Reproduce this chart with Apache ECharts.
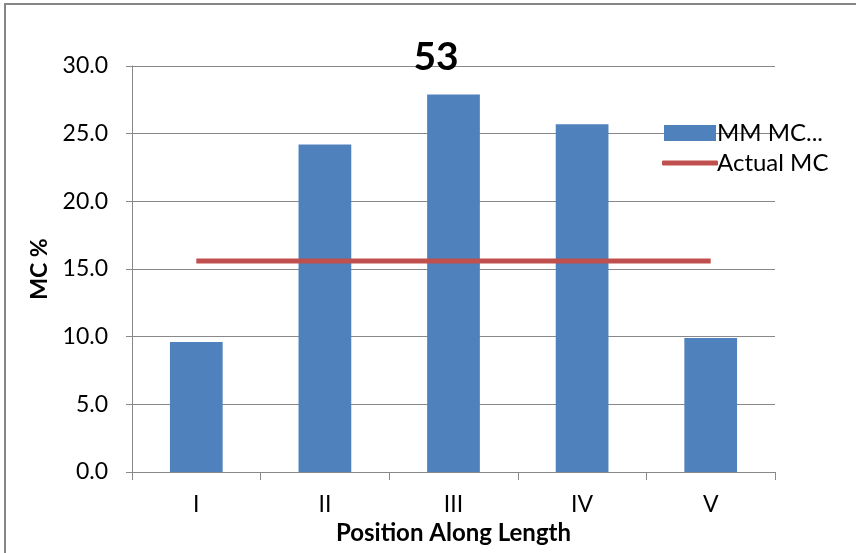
<!DOCTYPE html>
<html>
<head>
<meta charset="utf-8">
<script src="https://cdn.jsdelivr.net/npm/echarts@6/dist/echarts.min.js"></script>
<style>
  html, body { margin: 0; padding: 0; background: #fff; }
  #chart { width: 856px; height: 553px; }
</style>
</head>
<body>
<div id="chart"></div>
<script>
// Moisture content by position along the length
const positions = ['I', 'II', 'III', 'IV', 'V'];
const mmMC = [9.6, 24.2, 27.9, 25.7, 9.9];
const actualMC = [15.6, 15.6, 15.6, 15.6, 15.6];
const yTicks = { min: 0, max: 30, interval: 5 };

const font = 'Lato, "Open Sans", sans-serif';
const chart = echarts.init(document.getElementById('chart'), null, { renderer: 'canvas' });

chart.setOption({
  backgroundColor: '#ffffff',
  animation: false,
  title: {
    text: '53',
    left: 431,
    top: 33,
    textAlign: 'center',
    textStyle: { fontFamily: font, fontSize: 39, fontWeight: 'bold', color: '#000' }
  },
  // chart frame (top and left edges show inside the page)
  graphic: [{
    type: 'rect',
    shape: { x: 5, y: 4, width: 900, height: 600 },
    style: { fill: 'none', stroke: '#868686', lineWidth: 2 },
    silent: true
  }],
  legend: [{
    data: [{ name: 'MM MC...', icon: 'rect' }],
    left: 659, top: 116,
    itemWidth: 52, itemHeight: 16,
    textStyle: { fontFamily: font, fontSize: 24, lineHeight: 24, color: '#000', padding: [0, 0, 0, -4] }
  }, {
    data: [{ name: 'Actual MC', icon: 'roundRect' }],
    left: 657, top: 146,
    itemWidth: 56, itemHeight: 5,
    textStyle: { fontFamily: font, fontSize: 24, lineHeight: 24, color: '#000', padding: [0, 0, 0, -6] }
  }],
  grid: { left: 132, right: 81, top: 66, bottom: 81 },
  xAxis: {
    type: 'category',
    data: positions,
    name: 'Position Along Length',
    nameLocation: 'middle',
    nameGap: 49,
    nameTextStyle: { fontFamily: font, fontSize: 24, fontWeight: 'bold', color: '#000' },
    axisLine: { lineStyle: { color: '#888888', width: 1 } },
    axisTick: { show: true, length: 8, lineStyle: { color: '#888888' } },
    axisLabel: { fontFamily: font, fontSize: 23, color: '#000', margin: 21 }
  },
  yAxis: {
    type: 'value',
    min: yTicks.min, max: yTicks.max, interval: yTicks.interval,
    name: 'MC %',
    nameLocation: 'middle',
    nameGap: 81,
    nameTextStyle: { fontFamily: font, fontSize: 23, fontWeight: 'bold', color: '#000' },
    axisLine: { show: true, lineStyle: { color: '#888888', width: 1 } },
    axisTick: { show: true, length: 6, lineStyle: { color: '#888888' } },
    axisLabel: {
      fontFamily: font, fontSize: 23, color: '#000', margin: 24,
      formatter: v => v.toFixed(1)
    },
    splitLine: { show: true, lineStyle: { color: '#888888', width: 1 } }
  },
  series: [{
    name: 'MM MC...',
    type: 'bar',
    data: mmMC,
    barWidth: '41%',
    itemStyle: { color: '#4F81BD' }
  }, {
    name: 'Actual MC',
    type: 'line',
    data: actualMC,
    showSymbol: false,
    symbol: 'none',
    lineStyle: { color: '#C0504D', width: 5, cap: 'butt' },
    itemStyle: { color: '#C0504D' }
  }]
});
</script>
</body>
</html>
